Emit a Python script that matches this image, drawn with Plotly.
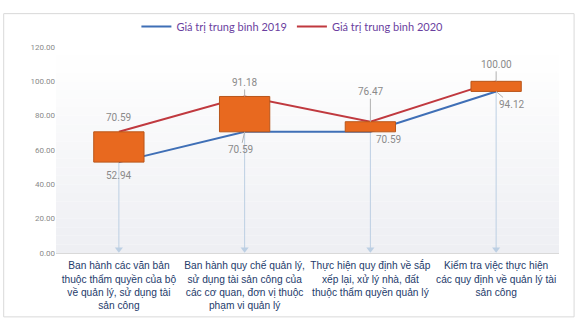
import plotly.graph_objects as go

# Category labels (wrapped onto several lines)
categories = [
    "Ban hành các văn bản<br>thuộc thẩm quyền của bộ<br>về quản lý, sử dụng tài<br>sản công",
    "Ban hành quy chế quản lý,<br>sử dụng tài sản công của<br>các cơ quan, đơn vị thuộc<br>phạm vi quản lý",
    "Thực hiện quy định về sắp<br>xếp lại, xử lý nhà, đất<br>thuộc thẩm quyền quản lý",
    "Kiểm tra việc thực hiện<br>các quy định về quản lý tài<br>sản công",
]
values_2019 = [52.94, 70.59, 70.59, 94.12]
values_2020 = [70.59, 91.18, 76.47, 100.00]
y_ticks = [0, 20, 40, 60, 80, 100, 120]

name_2019 = "Giá trị trung bình 2019"
name_2020 = "Giá trị trung bình 2020"

xs = list(range(len(categories)))
BLUE = "#3f6fb6"
RED = "#c0393f"
ORANGE = "#e8691f"
DROP = "#bccfe3"
LABEL_FONT = dict(family="Liberation Sans Narrow, Roboto, Arial Narrow, sans-serif", size=10, color="#8a8a8a")

fig = go.Figure()

# Drop lines from the highest value down to the category axis
drop_x, drop_y = [], []
for x, a, b in zip(xs, values_2019, values_2020):
    drop_x += [x, x, None]
    drop_y += [max(a, b), 1.5, None]
fig.add_trace(go.Scatter(x=drop_x, y=drop_y, mode="lines", line=dict(color=DROP, width=1),
                         showlegend=False, hoverinfo="skip"))
fig.add_trace(go.Scatter(x=xs, y=[2.2] * len(xs), mode="markers",
                         marker=dict(symbol="triangle-down", size=7, color=DROP),
                         showlegend=False, hoverinfo="skip"))

# The two series
fig.add_trace(go.Scatter(x=xs, y=values_2019, mode="lines", name=name_2019,
                         line=dict(color=BLUE, width=2)))
fig.add_trace(go.Scatter(x=xs, y=values_2020, mode="lines", name=name_2020,
                         line=dict(color=RED, width=2)))

# Up bars between 2019 and 2020, on an overlaid axis so they sit above the lines
fig.add_trace(go.Bar(x=xs, y=[b - a for a, b in zip(values_2019, values_2020)], base=values_2019,
                     width=0.4, marker=dict(color=ORANGE, line=dict(color="#b9561a", width=1)),
                     showlegend=False, hoverinfo="skip", xaxis="x2", yaxis="y2"))

# Value labels: (value, x offset px, y offset px, leader line?)
label_specs = [
    (0, values_2020[0], 0, -14, False),
    (0, values_2019[0], 0, 13, False),
    (1, values_2020[1], 0, -14, True),
    (1, values_2019[1], -4, 18, True),
    (2, values_2020[2], 0, -30, True),
    (2, values_2019[2], 18, 8, False),
    (3, values_2020[3], 0, -17, True),
    (3, values_2019[3], 15, 13, True),
]
for x, v, dx, dy, leader in label_specs:
    if leader:
        fig.add_annotation(x=x, y=v, text=f"{v:.2f}", showarrow=True, arrowhead=0,
                           arrowwidth=1, arrowcolor="#b0b0b0", ax=dx, ay=dy, font=LABEL_FONT)
    else:
        fig.add_annotation(x=x, y=v, text=f"{v:.2f}", showarrow=False,
                           xshift=dx, yshift=-dy, font=LABEL_FONT)

# Plot area shading: white at the top fading to a pale grey at the bottom
n_bands = 24
for i in range(n_bands):
    t = i / (n_bands - 1)
    r = round(255 - (255 - 238) * t)
    g = round(255 - (255 - 239) * t)
    b = round(255 - (255 - 243) * t)
    fig.add_shape(type="rect", xref="paper", yref="paper", layer="below",
                  x0=0, x1=1, y0=1 - (i + 1) / n_bands, y1=1 - i / n_bands,
                  line=dict(width=0), fillcolor=f"rgb({r},{g},{b})")

# Outer frame of the chart
fig.add_shape(type="rect", xref="paper", yref="paper", x0=-0.104, x1=1.03, y0=-0.31, y1=1.162,
              line=dict(color="#d9d9d9", width=1))

axis_range = [-0.5, len(categories) - 0.5]
fig.update_layout(
    width=575, height=325,
    margin=dict(l=56, r=16, t=38, b=72),
    paper_bgcolor="white", plot_bgcolor="rgba(0,0,0,0)",
    font=dict(family="Liberation Sans, Arial, sans-serif"),
    showlegend=True,
    legend=dict(orientation="h", x=0.47, xanchor="center", y=1.1, yanchor="middle",
                font=dict(family="Lato, Liberation Sans, sans-serif", size=11, color="#6b3fa0"),
                itemwidth=30, bgcolor="rgba(0,0,0,0)"),
    xaxis=dict(range=axis_range, tickvals=xs, ticktext=categories, showgrid=False,
               zeroline=False, showline=True, linecolor="#d9d9d9", ticks="",
               tickangle=0, automargin=False, ticklabelstandoff=3,
               tickfont=dict(family="Liberation Sans, Arial, sans-serif", size=10.2, color="#243b6b")),
    yaxis=dict(range=[0, 120], tickvals=y_ticks, tickformat=".2f", showgrid=False,
               zeroline=False, showline=False, ticks="", automargin=False,
               tickfont=dict(family="Liberation Sans Narrow, Roboto, sans-serif", size=8, color="#8a8a8a")),
    xaxis2=dict(range=axis_range, overlaying="x", visible=False),
    yaxis2=dict(range=[0, 120], overlaying="y", visible=False),
)

fig.write_html("out.html")
